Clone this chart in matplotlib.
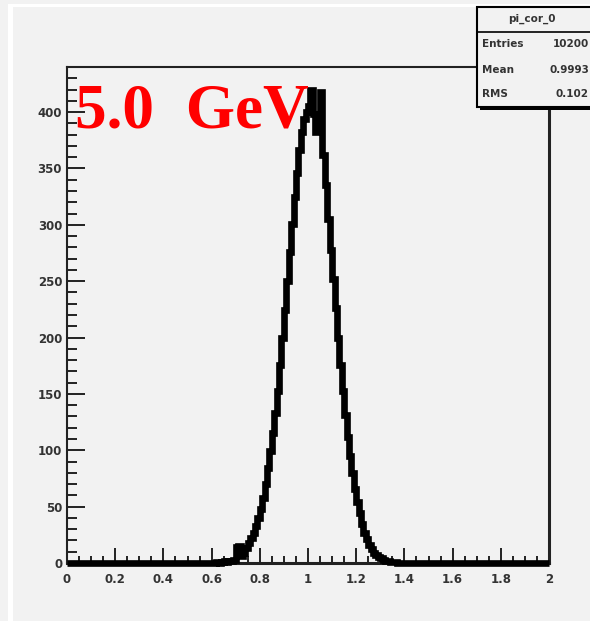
import numpy as np
import matplotlib

matplotlib.use("Agg")
import matplotlib.pyplot as plt
from matplotlib.patches import Rectangle
from matplotlib.ticker import MultipleLocator

# ---------------------------------------------------------------------------
# Data (counts per 0.01 bin, starting at x = 0.62)
# ---------------------------------------------------------------------------
BIN_WIDTH = 0.01
FIRST_BIN = 0.62
counts = [
    1, 0, 1, 2, 1, 2, 2, 3, 14, 15,
    6, 9, 13, 18, 22, 27, 33, 40, 48, 58,
    70, 84, 99, 115, 133, 153, 176, 200, 224, 250,
    276, 301, 325, 346, 366, 382, 394, 400, 405, 420,
    398, 382, 392, 418, 362, 335, 305, 278, 252, 226,
    200, 176, 153, 131, 112, 95, 80, 66, 54, 44,
    35, 27, 21, 16, 12, 9, 7, 5, 4, 3,
    2, 2, 1, 1, 1, 0,
]
x_ticks = [0, 0.2, 0.4, 0.6, 0.8, 1, 1.2, 1.4, 1.6, 1.8, 2]
x_ticklabels = ["0", "0.2", "0.4", "0.6", "0.8", "1", "1.2", "1.4", "1.6", "1.8", "2"]
y_ticks = [0, 50, 100, 150, 200, 250, 300, 350, 400]

hist_title = "pi_cor_0"
stats = [("Entries", "10200"), ("Mean", "0.9993"), ("RMS", "0.102")]
energy_label = "5.0  GeV"

# ---------------------------------------------------------------------------
# Figure
# ---------------------------------------------------------------------------
W, H = 590, 621
BG = "#f2f2f2"
INK = "#222222"


def fx(px):
    return px / W


def fy(py):
    return 1 - py / H


fig = plt.figure(figsize=(W / 100, H / 100), dpi=100, facecolor=BG)

# white window frame lines
fig.add_artist(Rectangle((fx(8), 0), 5 / W, fy(4), transform=fig.transFigure,
                         facecolor="white", edgecolor="none"))
fig.add_artist(Rectangle((fx(8), fy(7)), 1, 3 / H, transform=fig.transFigure,
                         facecolor="white", edgecolor="none"))

ax = fig.add_axes([fx(67), fy(563), (549 - 67) / W, (563 - 67) / H])
ax.set_facecolor(BG)

n_bins = int(round(2 / BIN_WIDTH))
hist = np.zeros(n_bins)
i0 = int(round(FIRST_BIN / BIN_WIDTH))
hist[i0:i0 + len(counts)] = counts
edges = np.linspace(0, 2, n_bins + 1)
ax.stairs(hist, edges, baseline=None, color="black", lw=4.8, clip_on=False, zorder=3)

ax.set_xlim(0, 2)
ax.set_ylim(0, 440)

for side, w in [("left", 1.5), ("top", 1.5), ("right", 2.2), ("bottom", 2.2)]:
    ax.spines[side].set_linewidth(w)
    ax.spines[side].set_color(INK)

ax.set_xticks(x_ticks)
ax.set_xticklabels(x_ticklabels)
ax.set_yticks(y_ticks)
ax.xaxis.set_minor_locator(MultipleLocator(0.05))
ax.yaxis.set_minor_locator(MultipleLocator(10))
ax.tick_params(axis="x", which="major", direction="in", length=10.5, width=1.4,
               color=INK, pad=7, labelsize=8.5)
ax.tick_params(axis="x", which="minor", direction="in", length=5.4, width=1.4,
               color=INK)
ax.tick_params(axis="y", which="major", direction="in", length=13, width=1.4,
               color=INK, pad=3.5, labelsize=8.5)
ax.tick_params(axis="y", which="minor", direction="in", length=7.5, width=1.4,
               color=INK)
for lab in ax.get_xticklabels() + ax.get_yticklabels():
    lab.set_fontweight("bold")
    lab.set_color("#333333")

# energy label
fig.text(fx(75), fy(128), energy_label, color="red", fontsize=45.5,
         fontfamily="Liberation Serif", fontweight="bold", ha="left", va="baseline",
         zorder=5)

# stats box
box_l, box_t, box_b = 477, 7, 107
fig.add_artist(Rectangle((fx(box_l + 3), fy(box_b + 3)), 1, (box_b - box_t) / H,
                         transform=fig.transFigure, facecolor="black", edgecolor="none",
                         zorder=6))
fig.add_artist(Rectangle((fx(box_l), fy(box_b)), 1, (box_b - box_t) / H,
                         transform=fig.transFigure, facecolor=BG, edgecolor="black",
                         lw=1.5, zorder=7))
fig.add_artist(plt.Line2D([fx(box_l), 1], [fy(32), fy(32)], transform=fig.transFigure,
                          color="black", lw=1.2, zorder=8))
fig.text(fx(532), fy(19), hist_title, ha="center", va="center", fontsize=7.5,
         fontweight="bold", color="#333333", zorder=9)
for (name, val), py in zip(stats, [44, 70, 94]):
    fig.text(fx(482), fy(py), name, ha="left", va="center", fontsize=7.5,
             fontweight="bold", color="#333333", zorder=9)
    fig.text(fx(589), fy(py), val, ha="right", va="center", fontsize=7.5,
             fontweight="bold", color="#333333", zorder=9)

fig.savefig("out.png", dpi=100, facecolor=BG)
